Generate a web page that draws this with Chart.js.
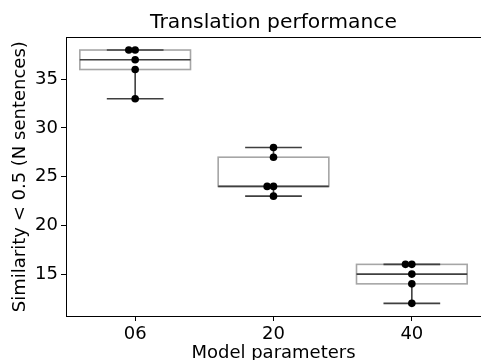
<!DOCTYPE html>
<html><head><meta charset="utf-8">
<script src="https://cdn.jsdelivr.net/npm/chart.js@4"></script>
<style>html,body{margin:0;padding:0;background:#fff}#wrap{width:481px;height:360px;position:relative}</style>
</head><body><div id="wrap"><canvas id="c"></canvas></div>
<script>
const categories = ['06', '20', '40'];
const values06 = [38, 38, 37, 36, 33];
const values20 = [28, 27, 24, 24, 23];
const values40 = [16, 16, 15, 14, 12];
const yTicks = [15, 20, 25, 30, 35];
const groups = [values06, values20, values40];

function quantile(sorted, p) {
  const pos = (sorted.length - 1) * p;
  const lo = Math.floor(pos), hi = Math.ceil(pos);
  return sorted[lo] + (sorted[hi] - sorted[lo]) * (pos - lo);
}
function stats(vals) {
  const s = [...vals].sort((a, b) => a - b);
  const q1 = quantile(s, 0.25), med = quantile(s, 0.5), q3 = quantile(s, 0.75);
  const iqr = q3 - q1;
  const lo = Math.min(...s.filter(v => v >= q1 - 1.5 * iqr));
  const hi = Math.max(...s.filter(v => v <= q3 + 1.5 * iqr));
  return { q1, med, q3, lo, hi };
}
const boxStats = groups.map(stats);

const SWARM = 0.046;
const points = [];
groups.forEach((vals, i) => {
  const seen = {};
  vals.forEach(v => {
    const k = seen[v] || 0;
    seen[v] = k + 1;
    points.push({ x: i - SWARM * k, y: v });
  });
});

const boxPlugin = {
  id: 'boxes',
  beforeDatasetsDraw(chart) {
    const { ctx, scales: { x, y } } = chart;
    const line = (x1, y1, x2, y2) => { ctx.beginPath(); ctx.moveTo(x1, y1); ctx.lineTo(x2, y2); ctx.stroke(); };
    ctx.save();
    boxStats.forEach((s, i) => {
      const xl = x.getPixelForValue(i - 0.4), xr = x.getPixelForValue(i + 0.4);
      const cl = x.getPixelForValue(i - 0.205), cr = x.getPixelForValue(i + 0.205);
      const xc = x.getPixelForValue(i);
      ctx.lineWidth = 1.6;
      ctx.strokeStyle = '#a6a6a6';
      ctx.strokeRect(xl, y.getPixelForValue(s.q3), xr - xl, y.getPixelForValue(s.q1) - y.getPixelForValue(s.q3));
      ctx.strokeStyle = '#3f3f3f';
      line(xc, y.getPixelForValue(s.q1), xc, y.getPixelForValue(s.lo));
      line(xc, y.getPixelForValue(s.q3), xc, y.getPixelForValue(s.hi));
      line(cl, y.getPixelForValue(s.lo), cr, y.getPixelForValue(s.lo));
      line(cl, y.getPixelForValue(s.hi), cr, y.getPixelForValue(s.hi));
      line(xl, y.getPixelForValue(s.med), xr, y.getPixelForValue(s.med));
    });
    ctx.restore();
  }
};
const topSpine = {
  id: 'topSpine',
  afterDraw(chart) {
    const { ctx, chartArea: a } = chart;
    ctx.save();
    ctx.strokeStyle = '#000';
    ctx.lineWidth = 1;
    ctx.beginPath();
    ctx.moveTo(a.left, Math.round(a.top) + 0.5);
    ctx.lineTo(a.right, Math.round(a.top) + 0.5);
    ctx.stroke();
    ctx.restore();
  }
};

const FONT = { family: 'DejaVu Sans', size: 18, weight: 'normal' };

new Chart(document.getElementById('c'), {
  type: 'scatter',
  data: {
    datasets: [{
      data: points,
      pointRadius: 3.8,
      pointHoverRadius: 3.8,
      backgroundColor: '#000',
      borderWidth: 0,
      clip: false
    }]
  },
  plugins: [boxPlugin, topSpine],
  options: {
    responsive: true,
    maintainAspectRatio: false,
    animation: false,
    layout: { autoPadding: false, padding: 0 },
    plugins: {
      legend: { display: false },
      tooltip: { enabled: false },
      title: {
        display: true,
        text: 'Translation performance',
        fullSize: false,
        color: '#000',
        font: { family: 'DejaVu Sans', size: 20.3, weight: 'normal' },
        padding: { top: 11, bottom: 2 }
      }
    },
    scales: {
      x: {
        type: 'linear',
        min: -0.5,
        max: 2.5,
        afterBuildTicks(s) { s.ticks = categories.map((c, i) => ({ value: i })); },
        afterFit(s) { s.height = 44; },
        ticks: { callback: v => categories[v], color: '#000', font: FONT, padding: 3, maxRotation: 0, autoSkip: false },
        grid: { drawOnChartArea: false, tickLength: 5, color: '#000' },
        border: { color: '#000', width: 1 },
        title: { display: true, text: 'Model parameters', color: '#000', font: FONT, padding: { top: 0, bottom: -4 } }
      },
      y: {
        min: 10.7,
        max: 39.3,
        afterBuildTicks(s) { s.ticks = yTicks.map(v => ({ value: v })); },
        afterFit(s) { s.width = 66; },
        ticks: { color: '#000', font: FONT, padding: 3 },
        grid: { drawOnChartArea: false, tickLength: 5, color: '#000' },
        border: { color: '#000', width: 1 },
        title: { display: true, text: 'Similarity < 0.5 (N sentences)', color: '#000', font: FONT, padding: { top: 10, bottom: 0 } }
      }
    }
  }
});
</script>
</body></html>
